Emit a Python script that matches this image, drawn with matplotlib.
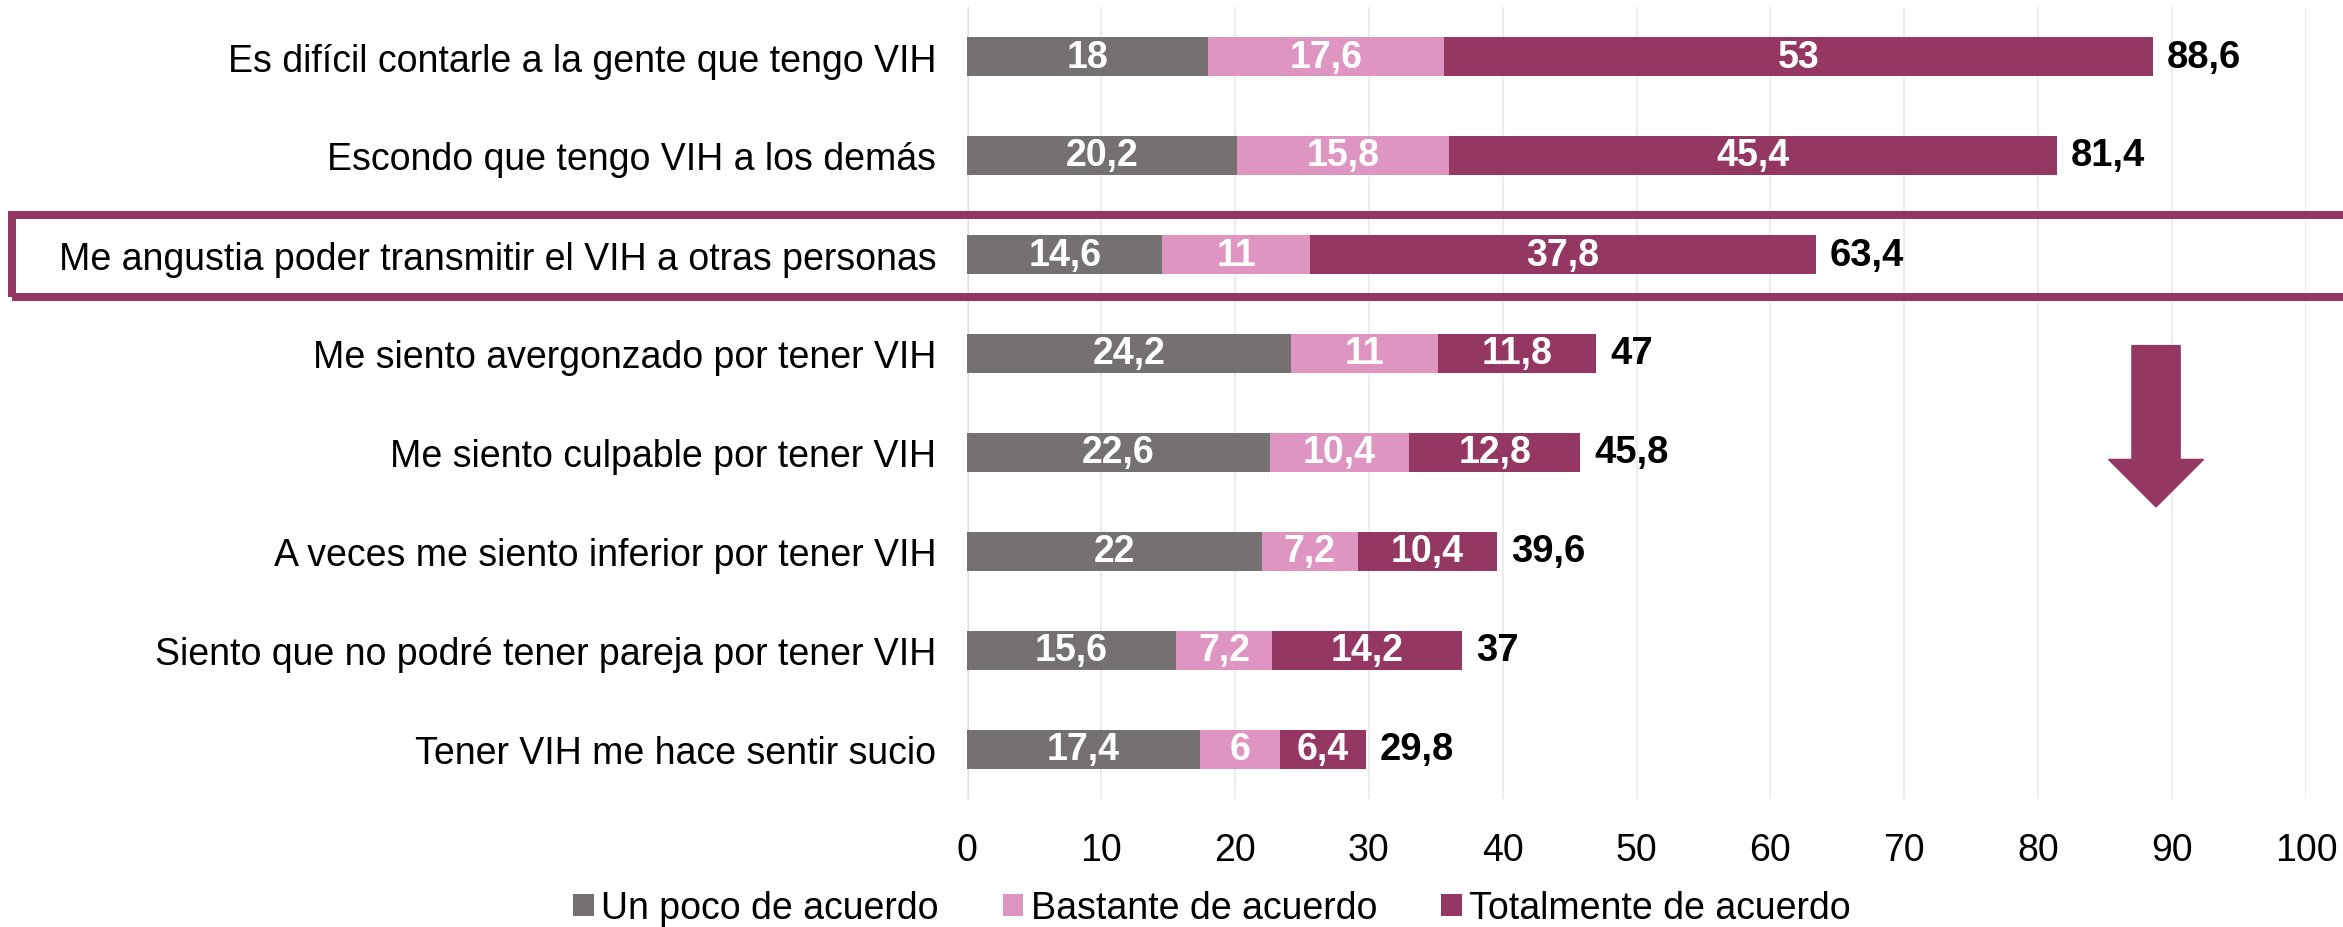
import numpy as np
import matplotlib.pyplot as plt
from matplotlib.patches import Rectangle, FancyArrow

plt.rcParams['font.family'] = ['Liberation Sans', 'DejaVu Sans']

# data (percent)
categories = [
    "Es difícil contarle a la gente que tengo VIH",
    "Escondo que tengo VIH a los demás",
    "Me angustia poder transmitir el VIH a otras personas",
    "Me siento avergonzado por tener VIH",
    "Me siento culpable por tener VIH",
    "A veces me siento inferior por tener VIH",
    "Siento que no podré tener pareja por tener VIH",
    "Tener VIH me hace sentir sucio",
]
un_poco = [18, 20.2, 14.6, 24.2, 22.6, 22, 15.6, 17.4]
bastante = [17.6, 15.8, 11, 11, 10.4, 7.2, 7.2, 6]
totalmente = [53, 45.4, 37.8, 11.8, 12.8, 10.4, 14.2, 6.4]
totals = [88.6, 81.4, 63.4, 47, 45.8, 39.6, 37, 29.8]
series_names = ["Un poco de acuerdo", "Bastante de acuerdo", "Totalmente de acuerdo"]
colors = ["#767171", "#DE95C2", "#943763"]
xticks = list(range(0, 101, 10))

FS = 27

def fmt(v):
    # spanish decimal comma
    s = f"{v:g}"
    return s.replace(".", ",")

fig = plt.figure(figsize=(23.43, 9.28), dpi=100)
ax = fig.add_axes([967/2343, 1 - 800/928, (2306-967)/2343, 792/928])

y = np.arange(len(categories))
left = np.zeros(len(categories))
for vals, name, col in zip([un_poco, bastante, totalmente], series_names, colors):
    bars = ax.barh(y, vals, left=left, height=0.39, color=col, label=name, zorder=3)
    for b, v in zip(bars, vals):
        ax.text(b.get_x() + b.get_width()/2, b.get_y() + b.get_height()/2, fmt(v),
                ha='center', va='center', color='white', fontsize=FS, fontweight='bold', zorder=4)
    left = left + np.array(vals)

for yi, t in zip(y, totals):
    ax.annotate(fmt(t), xy=(t, yi), xytext=(10, 0), textcoords='offset points',
                ha='left', va='center', fontsize=FS + 0.5, fontweight='bold', color='black')

ax.set_xlim(0, 100)
ax.set_ylim(len(categories) - 0.5, -0.5)
ax.set_xticks(xticks)
ax.set_yticks(y)
ax.set_yticklabels(categories, fontsize=FS)
ax.tick_params(axis='x', labelsize=FS, length=0, pad=24)
ax.tick_params(axis='y', length=0, pad=22)
ax.grid(axis='x', color='#EDEDED', linewidth=1.5, zorder=0)
for s in ax.spines.values():
    s.set_visible(False)
ax.axvline(0, color='#D9D9D9', linewidth=2, zorder=1)

# highlight box around the third row
fig.patches.append(Rectangle((12/2343, 1 - 298/928), 2400/2343, 82/928, transform=fig.transFigure,
                             fill=False, edgecolor='#943763', linewidth=5.8, zorder=5))

# down arrow on the right
ax.add_patch(FancyArrow(88.8, 2.92, 0, 1.63, width=3.6, head_width=7.1, head_length=0.48,
                        length_includes_head=True, color='#943763', zorder=5))

fig.legend(loc='center', bbox_to_anchor=(1212/2343, 0.02), ncol=3, frameon=False, fontsize=FS,
           handlelength=0.55, handleheight=0.55, handletextpad=0.2, columnspacing=1.7)

fig.savefig('out.png', dpi=100)
